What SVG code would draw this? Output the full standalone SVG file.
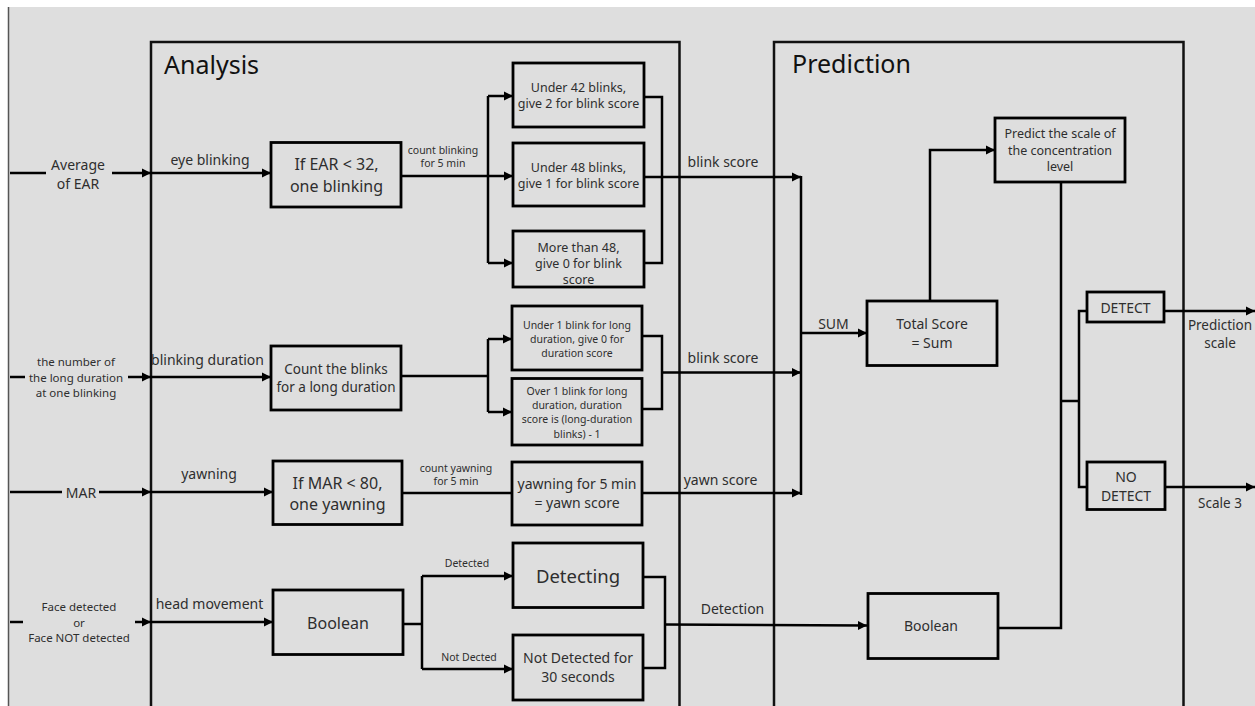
<svg xmlns="http://www.w3.org/2000/svg" width="1255" height="706" viewBox="0 0 1255 706">
  <defs>
    <marker id="arrow" viewBox="0 0 10 10" refX="10" refY="5" markerWidth="9" markerHeight="10" markerUnits="userSpaceOnUse" orient="auto">
      <path d="M0,0 L10,5 L0,10 z" fill="#000"/>
    </marker>
    <style>
      text { font-family: "Noto Sans", "Open Sans", sans-serif; fill: #2e2e2e; text-anchor: middle; dominant-baseline: central; }
      .title { font-size: 25px; fill: #111; text-anchor: start; }
      .box { fill: none; stroke: #000; stroke-width: 2.8; }
      .panel { fill: none; stroke: #111; stroke-width: 2.5; }
      .wire { fill: none; stroke: #000; stroke-width: 2.5; }
      .arr { marker-end: url(#arrow); }
      .lbl { font-size: 14px; }
      .small { font-size: 10.5px; }
      .in { font-size: 11.5px; }
    </style>
  </defs>

  <!-- canvas -->
  <rect x="0" y="0" width="1255" height="706" fill="#ffffff"/>
  <rect x="8" y="7" width="1247" height="699" fill="#dedede"/>
  <line x1="8.5" y1="7" x2="8.5" y2="706" stroke="#555" stroke-width="1.5"/>

  <!-- stage panels -->
  <g id="analysis-panel">
    <rect class="panel" x="151" y="42" width="528.5" height="700"/>
    <text class="title" x="164" y="64">Analysis</text>
  </g>
  <g id="prediction-panel">
    <rect class="panel" x="774" y="42" width="409.5" height="700"/>
    <text class="title" x="792" y="63">Prediction</text>
  </g>

  <!-- connectors -->
  <g id="connectors">
    <!-- row: eye blinking -->
    <line class="wire" x1="10" y1="173" x2="46" y2="173"/>
    <line class="wire arr" x1="112" y1="173" x2="151" y2="173"/>
    <line class="wire arr" x1="151" y1="173" x2="271" y2="173"/>
    <line class="wire arr" x1="401" y1="176" x2="513" y2="176"/>
    <line class="wire" x1="488" y1="96" x2="488" y2="263"/>
    <line class="wire arr" x1="488" y1="96" x2="513" y2="96"/>
    <line class="wire arr" x1="488" y1="263" x2="513" y2="263"/>
    <polyline class="wire" points="644,97 662,97 662,263 644,263"/>
    <line class="wire arr" x1="644" y1="177" x2="801" y2="177"/>

    <!-- row: blinking duration -->
    <line class="wire" x1="10" y1="377" x2="25" y2="377"/>
    <line class="wire arr" x1="128" y1="377" x2="151" y2="377"/>
    <line class="wire arr" x1="151" y1="377" x2="271" y2="377"/>
    <line class="wire" x1="401" y1="376" x2="488" y2="376"/>
    <line class="wire" x1="488" y1="339" x2="488" y2="412"/>
    <line class="wire arr" x1="488" y1="339" x2="512" y2="339"/>
    <line class="wire arr" x1="488" y1="412" x2="512" y2="412"/>
    <polyline class="wire" points="642,336 662,336 662,409 642,409"/>
    <line class="wire arr" x1="662" y1="372.5" x2="801" y2="372.5"/>

    <!-- row: yawning -->
    <line class="wire" x1="10" y1="492" x2="62" y2="492"/>
    <line class="wire arr" x1="99" y1="492" x2="151" y2="492"/>
    <line class="wire arr" x1="151" y1="492" x2="273" y2="492"/>
    <line class="wire" x1="402" y1="493" x2="512" y2="493"/>
    <line class="wire arr" x1="642" y1="493" x2="801" y2="493"/>

    <!-- row: head movement -->
    <line class="wire" x1="10" y1="622" x2="23" y2="622"/>
    <line class="wire arr" x1="135" y1="622" x2="151" y2="622"/>
    <line class="wire arr" x1="151" y1="622" x2="273" y2="622"/>
    <line class="wire" x1="403" y1="624" x2="422" y2="624"/>
    <line class="wire" x1="422" y1="576" x2="422" y2="669"/>
    <line class="wire arr" x1="422" y1="576" x2="513" y2="576"/>
    <line class="wire arr" x1="422" y1="669" x2="513" y2="669"/>
    <polyline class="wire" points="643,577 665,577 665,668 643,668"/>
    <line class="wire arr" x1="665" y1="624.5" x2="867" y2="625.5"/>

    <!-- score sum -->
    <line class="wire" x1="801" y1="176" x2="801" y2="495"/>
    <line class="wire arr" x1="801" y1="333" x2="867" y2="333"/>
    <polyline class="wire arr" points="930,301 930,150 995,150"/>
    <polyline class="wire" points="1061,182 1061,628 998,628"/>
    <line class="wire" x1="1061" y1="401" x2="1079" y2="401"/>
    <polyline class="wire" points="1087,311 1079,311 1079,487 1087,487"/>
    <line class="wire arr" x1="1164" y1="311" x2="1255" y2="311"/>
    <line class="wire arr" x1="1165" y1="487" x2="1255" y2="487"/>
  </g>

  <!-- connector labels -->
  <g id="connector-labels">
    <text class="lbl" x="78" y="164">Average</text>
    <text class="lbl" x="78" y="183">of EAR</text>
    <text class="lbl" x="210" y="159">eye blinking</text>
    <text class="small" x="443" y="150">count blinking</text>
    <text class="small" x="443" y="163">for 5 min</text>
    <text class="lbl" x="723" y="161.5">blink score</text>

    <text class="in" x="76" y="361">the number of</text>
    <text class="in" x="76" y="377">the long duration</text>
    <text class="in" x="76" y="392">at one blinking</text>
    <text class="lbl" x="207.5" y="359">blinking duration</text>
    <text class="lbl" x="723" y="357">blink score</text>

    <text class="lbl" x="81" y="492">MAR</text>
    <text class="lbl" x="209" y="473.5">yawning</text>
    <text class="small" x="456" y="467.5">count yawning</text>
    <text class="small" x="456" y="481">for 5 min</text>
    <text class="lbl" x="720.5" y="479">yawn score</text>

    <text class="in" x="79" y="606">Face detected</text>
    <text class="in" x="79" y="622">or</text>
    <text class="in" x="79" y="637.5">Face NOT detected</text>
    <text class="lbl" x="209.5" y="603.5">head movement</text>
    <text class="small" x="467" y="562.5">Detected</text>
    <text class="small" x="469" y="657">Not Dected</text>
    <text class="lbl" x="732.5" y="608.5">Detection</text>

    <text class="lbl" x="833.5" y="323">SUM</text>
    <text style="font-size:13.5px" x="1220" y="324.5">Prediction</text>
    <text style="font-size:13.5px" x="1220" y="342.5">scale</text>
    <text style="font-size:13.5px" x="1220" y="502.5">Scale 3</text>
  </g>

  <!-- analysis nodes -->
  <g id="ear-threshold">
    <rect class="box" x="271" y="142.5" width="130" height="64.5"/>
    <text style="font-size:16px" x="336.5" y="164">If EAR &lt; 32,</text>
    <text style="font-size:16px" x="336.5" y="185.5">one blinking</text>
  </g>
  <g id="blink-under-42">
    <rect class="box" x="513" y="63" width="131" height="64"/>
    <text style="font-size:12.5px" x="578.5" y="87">Under 42 blinks,</text>
    <text style="font-size:12.5px" x="578.5" y="103">give 2 for blink score</text>
  </g>
  <g id="blink-under-48">
    <rect class="box" x="513" y="143" width="131" height="63"/>
    <text style="font-size:12.5px" x="578.5" y="167">Under 48 blinks,</text>
    <text style="font-size:12.5px" x="578.5" y="183.5">give 1 for blink score</text>
  </g>
  <g id="blink-over-48">
    <rect class="box" x="513" y="231" width="131" height="56"/>
    <text style="font-size:12.5px" x="578.5" y="247">More than 48,</text>
    <text style="font-size:12.5px" x="578.5" y="263">give 0 for blink</text>
    <text style="font-size:12.5px" x="578.5" y="279.5">score</text>
  </g>

  <g id="long-blink-count">
    <rect class="box" x="271" y="346" width="130" height="64"/>
    <text style="font-size:13.5px" x="336" y="369">Count the blinks</text>
    <text style="font-size:13.5px" x="336" y="387">for a long duration</text>
  </g>
  <g id="duration-under-1">
    <rect class="box" x="512" y="306" width="130" height="64"/>
    <text style="font-size:10.5px" x="577" y="324.5">Under 1 blink for long</text>
    <text style="font-size:10.5px" x="577" y="338.5">duration, give 0 for</text>
    <text style="font-size:10.5px" x="577" y="353">duration score</text>
  </g>
  <g id="duration-over-1">
    <rect class="box" x="512" y="378.5" width="130" height="66.5"/>
    <text style="font-size:10.5px" x="577" y="390.5">Over 1 blink for long</text>
    <text style="font-size:10.5px" x="577" y="405">duration, duration</text>
    <text style="font-size:10.5px" x="577" y="419">score is (long-duration</text>
    <text style="font-size:10.5px" x="577" y="433.5">blinks) - 1</text>
  </g>

  <g id="mar-threshold">
    <rect class="box" x="273" y="461" width="129" height="63.5"/>
    <text style="font-size:16px" x="337.5" y="482.5">If MAR &lt; 80,</text>
    <text style="font-size:16px" x="337.5" y="504">one yawning</text>
  </g>
  <g id="yawn-count">
    <rect class="box" x="512" y="462" width="130" height="63"/>
    <text style="font-size:14px" x="577" y="483.5">yawning for 5 min</text>
    <text style="font-size:14px" x="577" y="502">= yawn score</text>
  </g>

  <g id="face-boolean">
    <rect class="box" x="273" y="590" width="130" height="64.5"/>
    <text style="font-size:16px" x="338" y="622.5">Boolean</text>
  </g>
  <g id="face-detecting">
    <rect class="box" x="513" y="543" width="130" height="64.5"/>
    <text style="font-size:18.5px" x="578" y="575">Detecting</text>
  </g>
  <g id="face-missing">
    <rect class="box" x="513" y="635" width="130" height="65"/>
    <text style="font-size:14px" x="578" y="657.5">Not Detected for</text>
    <text style="font-size:14px" x="578" y="676">30 seconds</text>
  </g>

  <!-- prediction nodes -->
  <g id="total-score">
    <rect class="box" x="867" y="301" width="130" height="64.5"/>
    <text style="font-size:14px" x="932" y="323">Total Score</text>
    <text style="font-size:14px" x="932" y="342">= Sum</text>
  </g>
  <g id="predict-scale">
    <rect class="box" x="995" y="118" width="130" height="64"/>
    <text style="font-size:12.5px" x="1060" y="133.5">Predict the scale of</text>
    <text style="font-size:12.5px" x="1060" y="150">the concentration</text>
    <text style="font-size:12.5px" x="1060" y="166.5">level</text>
  </g>
  <g id="detect">
    <rect class="box" x="1087" y="292" width="77" height="30"/>
    <text style="font-size:14px" x="1125.5" y="307.5">DETECT</text>
  </g>
  <g id="no-detect">
    <rect class="box" x="1087" y="462" width="78" height="47.5"/>
    <text style="font-size:14px" x="1126" y="476.5">NO</text>
    <text style="font-size:14px" x="1126" y="495.5">DETECT</text>
  </g>
  <g id="detection-boolean">
    <rect class="box" x="868" y="593.5" width="130" height="65"/>
    <text style="font-size:14px" x="931" y="625.5">Boolean</text>
  </g>
</svg>
